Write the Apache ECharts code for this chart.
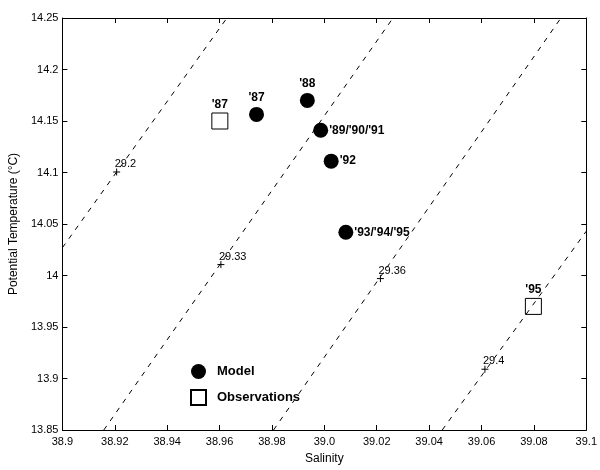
<!DOCTYPE html>
<html>
<head>
<meta charset="utf-8">
<script src="https://cdn.jsdelivr.net/npm/echarts@6/dist/echarts.min.js"></script>
<style>
  html, body { margin: 0; padding: 0; background: #fff; }
  #chart { width: 600px; height: 470px; }
</style>
</head>
<body>
<div id="chart"></div>
<script>
// isopycnal lines (sigma-theta), end points in salinity / temperature
const isoNames = ['29.2', '29.33', '29.36', '29.4'];
const isoSal = [[38.9, 38.9628], [38.9158, 39.0262], [38.9806, 39.0903], [39.045, 39.1]];
const isoTemp = [[14.027, 14.25], [13.85, 14.25], [13.85, 14.25], [13.85, 14.043]];
// '+' marks where the line values are written
const isoMarkSal = [38.9207, 38.9605, 39.0214, 39.0613];
const isoMarkTemp = [14.1005, 14.0106, 13.997, 13.909];

// model results
const modelYears = ["'87", "'88", "'89/'90/'91", "'92", "'93/'94/'95"];
const modelSal = [38.9741, 38.9935, 38.9986, 39.0026, 39.0082];
const modelTemp = [14.1564, 14.170, 14.141, 14.111, 14.042];

// observations
const obsYears = ["'87", "'95"];
const obsSal = [38.9601, 39.0798];
const obsTemp = [14.15, 13.97];

const FONT = '"Liberation Sans", Arial, Helvetica, sans-serif';

const chart = echarts.init(document.getElementById('chart'));

const isoSeries = isoNames.map(function (name, i) {
  return {
    name: 'iso' + name,
    type: 'line',
    symbol: 'none',
    silent: true,
    data: isoSal[i].map(function (s, j) { return [s, isoTemp[i][j]]; }),
    lineStyle: { color: '#000', width: 1, type: [5, 6] },
    z: 2
  };
});

const markSeries = {
  name: 'isoMarks',
  type: 'scatter',
  symbol: 'path://M0,5L10,5M5,0L5,10',
  symbolSize: 7,
  silent: true,
  itemStyle: { color: 'none', borderColor: '#000', borderWidth: 1, opacity: 1 },
  data: isoMarkSal.map(function (s, i) { return [s, isoMarkTemp[i], isoNames[i]]; }),
  label: {
    show: true,
    formatter: function (p) { return p.data[2]; },
    position: [4, -2],
    align: 'left',
    verticalAlign: 'middle',
    color: '#000',
    fontFamily: FONT,
    fontSize: 11
  },
  z: 3
};

const modelSeries = {
  name: 'Model',
  type: 'scatter',
  symbol: 'circle',
  symbolSize: 15,
  itemStyle: { color: '#000', opacity: 1 },
  data: modelSal.map(function (s, i) {
    return {
      value: [s, modelTemp[i]],
      label: {
        show: true,
        formatter: modelYears[i],
        position: i < 2 ? 'top' : 'right',
        distance: i < 2 ? 3 : 1
      }
    };
  }),
  label: { color: '#000', fontFamily: FONT, fontSize: 12, fontWeight: 'bold' },
  z: 4
};

const obsSeries = {
  name: 'Observations',
  type: 'scatter',
  symbol: 'rect',
  symbolSize: 16,
  itemStyle: { color: 'rgba(0,0,0,0)', borderColor: '#000', borderWidth: 1, opacity: 1 },
  data: obsSal.map(function (s, i) {
    return {
      value: [s, obsTemp[i]],
      label: { show: true, formatter: obsYears[i], position: 'top', distance: 2 }
    };
  }),
  label: { color: '#000', fontFamily: FONT, fontSize: 12, fontWeight: 'bold' },
  z: 4
};

const axisBase = {
  type: 'value',
  axisLine: { show: true, onZero: false, lineStyle: { color: '#000', width: 1 } },
  axisTick: { show: true, inside: true, length: 5, lineStyle: { color: '#000' } },
  splitLine: { show: false }
};

chart.setOption({
  animation: false,
  backgroundColor: '#fff',
  textStyle: { fontFamily: FONT },
  grid: { left: 61, right: 8, top: 18, bottom: 37 },
  legend: {
    data: ['Model', 'Observations'],
    orient: 'vertical',
    left: 190,
    top: 364,
    padding: 0,
    itemWidth: 15,
    itemHeight: 15,
    itemGap: 10,
    selectedMode: false,
    textStyle: { color: '#000', fontFamily: FONT, fontSize: 13, fontWeight: 'bold', padding: [0, 0, 0, 6] }
  },
  xAxis: [
    Object.assign({}, axisBase, {
      min: 38.9, max: 39.1, interval: 0.02,
      position: 'bottom',
      name: 'Salinity',
      nameLocation: 'middle',
      nameGap: 23,
      nameTextStyle: { color: '#000', fontSize: 12, fontFamily: FONT },
      axisLabel: {
        color: '#000', fontSize: 11, fontFamily: FONT, margin: 6,
        formatter: function (v) {
          let s = v.toFixed(2);
          if (s.charAt(s.length - 1) === '0') s = s.slice(0, -1);
          return s;
        }
      }
    }),
    Object.assign({}, axisBase, {
      min: 38.9, max: 39.1, interval: 0.02,
      position: 'top',
      axisLabel: { show: false }
    })
  ],
  yAxis: [
    Object.assign({}, axisBase, {
      min: 13.85, max: 14.25, interval: 0.05,
      position: 'left',
      name: 'Potential Temperature (°C)',
      nameLocation: 'middle',
      nameGap: 40,
      nameTextStyle: { color: '#000', fontSize: 12, fontFamily: FONT },
      axisLabel: { color: '#000', fontSize: 11, fontFamily: FONT, margin: 4 }
    }),
    Object.assign({}, axisBase, {
      min: 13.85, max: 14.25, interval: 0.05,
      position: 'right',
      axisLabel: { show: false }
    })
  ],
  series: isoSeries.concat([markSeries, modelSeries, obsSeries])
});
</script>
</body>
</html>
